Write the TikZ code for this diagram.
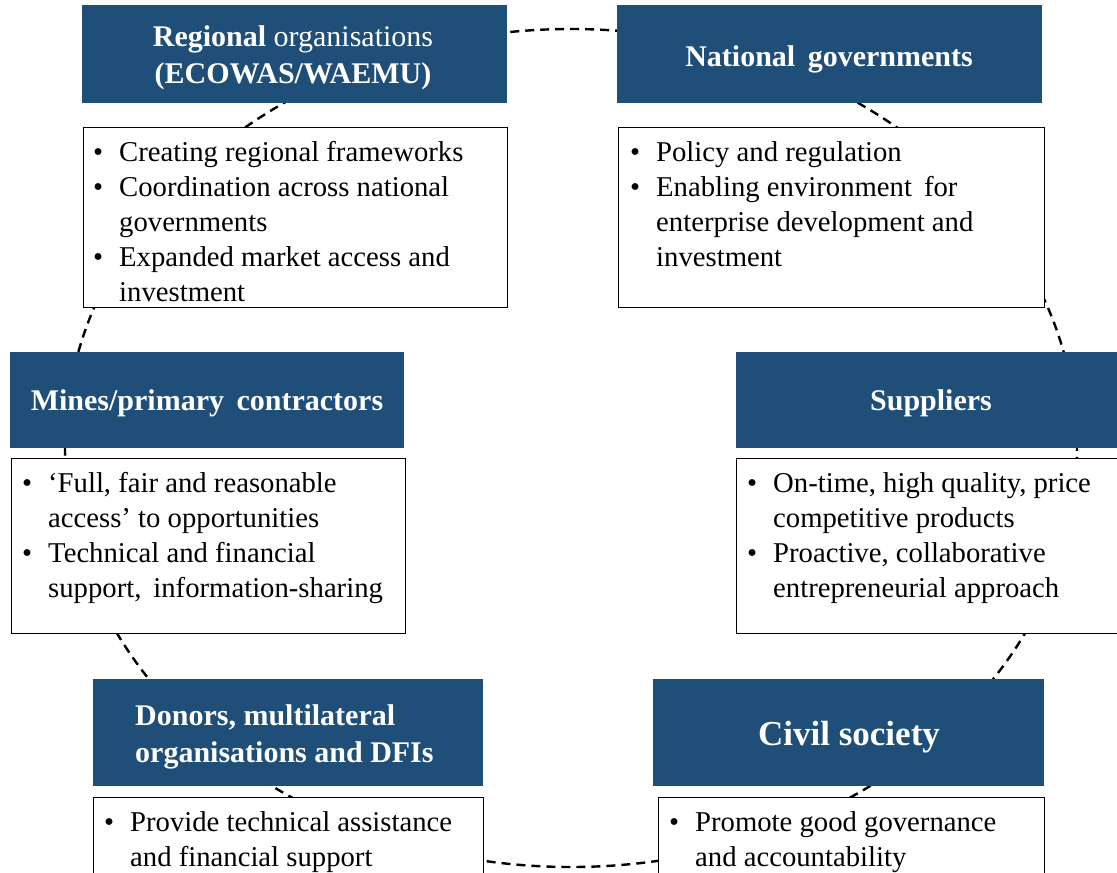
\documentclass[tikz,border=0pt]{standalone}
\usepackage{fontspec}
\setmainfont{Liberation Serif}
\definecolor{hdrblue}{RGB}{31,78,121}
\tikzset{
 hdrbox/.style={fill=hdrblue, draw=none, inner sep=0pt, anchor=north west},
 txtbox/.style={fill=white, draw=black, line width=1.3pt, inner sep=0pt, anchor=north west},
 hdrtext/.style={text=white, font=\fontsize{30}{37}\selectfont\bfseries, align=center, inner sep=0pt},
 bigtext/.style={text=white, font=\fontsize{35}{42}\selectfont\bfseries, inner sep=0pt},
 bodytext/.style={text=black, font=\fontsize{28.7}{35}\selectfont, align=left, inner sep=0pt, anchor=north west},
 ring/.style={dash pattern=on 9pt off 6pt, line width=2.4pt}
}
\newcommand{\bl}{\makebox[26pt][l]{\textbullet}}
\newcommand{\ind}{\hspace*{26pt}}
\begin{document}
\begin{tikzpicture}[x=1pt,y=-1pt]
\useasboundingbox (0,0) rectangle (1117,873);
% dashed ring behind the boxes
\draw[ring] (571,448) ellipse [x radius=506pt, y radius=419pt];
% header boxes
\node[hdrbox, minimum width=425pt, minimum height=98pt] (rh) at (82,5) {};
\node[hdrbox, minimum width=425pt, minimum height=98pt] (ng) at (617,5) {};
\node[hdrbox, minimum width=394pt, minimum height=96pt] (mp) at (10,352) {};
\node[hdrbox, minimum width=395pt, minimum height=96pt] (su) at (736,352) {};
\node[hdrbox, minimum width=390pt, minimum height=107pt] (dn) at (93,679) {};
\node[hdrbox, minimum width=391pt, minimum height=107pt] (cs) at (653,679) {};
% text boxes
\node[txtbox, minimum width=424pt, minimum height=180pt] (rt) at (83,127) {};
\node[txtbox, minimum width=426pt, minimum height=180pt] (nt) at (618,127) {};
\node[txtbox, minimum width=394pt, minimum height=175pt] (mt) at (11,458) {};
\node[txtbox, minimum width=395pt, minimum height=175pt] (st) at (736,458) {};
\node[txtbox, minimum width=390pt, minimum height=100pt] (dt) at (93,797) {};
\node[txtbox, minimum width=386pt, minimum height=100pt] (ct) at (658,797) {};
% header texts
\node[hdrtext, anchor=north] (rhl) at (293,20.1) {\strut Regional \textmd{organisations}\\(ECOWAS/WAEMU)};
\node[hdrtext, anchor=base] (ngl) at (829,66) {National\ \,governments};
\node[hdrtext, anchor=base] (mpl) at (207,410) {Mines/primary\ \,contractors};
\node[hdrtext, anchor=base] (sul) at (931,410) {Suppliers};
\node[hdrtext, anchor=north west, align=left] (dnl) at (135,699.1) {\strut Donors, multilateral\\organisations and DFIs};
\node[bigtext, anchor=base] (csl) at (849,745) {Civil society};
% body texts
\node[bodytext] (rtl) at (93,136.5) {\strut\bl Creating regional frameworks\\
\bl Coordination across national\\
\ind governments\\
\bl Expanded market access and\\
\ind investment};
\node[bodytext] (ntl) at (630,136.5) {\strut\bl Policy and regulation\\
\bl Enabling environment\ \,for\\
\ind enterprise development and\\
\ind investment};
\node[bodytext] (mtl) at (22,467.5) {\strut\bl ‘Full, fair and reasonable\\
\ind access’ to opportunities\\
\bl Technical and financial\\
\ind support,\ \,information-sharing};
\node[bodytext] (stl) at (747,467.5) {\strut\bl On-time, high quality, price\\
\ind competitive products\\
\bl Proactive, collaborative\\
\ind entrepreneurial approach};
\node[bodytext] (dtl) at (104,806.5) {\strut\bl Provide technical assistance\\
\ind and financial support};
\node[bodytext] (ctl) at (669,806.5) {\strut\bl Promote good governance\\
\ind and accountability};
\end{tikzpicture}
\end{document}
